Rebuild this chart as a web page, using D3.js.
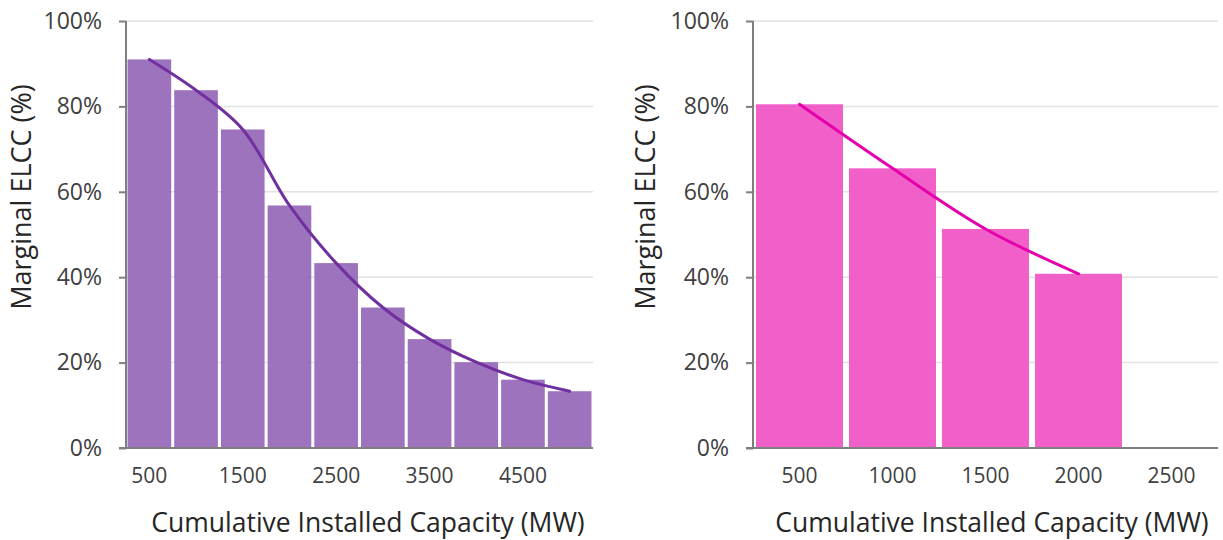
<!DOCTYPE html>
<html><head><meta charset="utf-8">
<script src="https://cdn.jsdelivr.net/npm/d3@7"></script>
<style>
html,body{margin:0;padding:0;background:#fff;}
svg{display:block;font-family:"Open Sans",sans-serif;}
</style></head>
<body><svg id="c" width="1223" height="540"></svg>
<script>
// ---- data ----
const leftCategories = [500,1000,1500,2000,2500,3000,3500,4000,4500,5000];
const leftValues = [91.0,83.8,74.6,56.8,43.3,32.9,25.5,20.1,16.0,13.3];
const leftTickLabels = ["500","1500","2500","3500","4500"];
const rightCategories = [500,1000,1500,2000,2500];
const rightValues = [80.5,65.5,51.3,40.8,null];
const rightTickLabels = ["500","1000","1500","2000","2500"];
const yTicks = [0,20,40,60,80,100];
const yTitle = "Marginal ELCC (%)";
const xTitle = "Cumulative Installed Capacity (MW)";

const svg = d3.select("#c");

function panel(opt){
  const g = svg.append("g");
  const y = d3.scaleLinear().domain([0,100]).range([448,21]);
  const x = d3.scaleBand().domain(opt.cats).range([opt.x0,opt.x1]).paddingInner(0.065).paddingOuter(0.0325);
  // gridlines
  g.append("g").selectAll("line").data(yTicks.filter(d=>d>0)).join("line")
    .attr("x1",opt.x0).attr("x2",opt.x1).attr("y1",d=>y(d)).attr("y2",d=>y(d))
    .attr("stroke","#e2e2e2").attr("stroke-width",1.5);
  // bars
  const data = opt.cats.map((c,i)=>({c, v:opt.vals[i]})).filter(d=>d.v!=null);
  g.append("g").selectAll("rect").data(data).join("rect")
    .attr("x",d=>x(d.c)).attr("width",x.bandwidth())
    .attr("y",d=>y(d.v)).attr("height",d=>y(0)-y(d.v))
    .attr("fill",opt.bar).attr("fill-opacity",0.92);
  // line
  const line = d3.line().x(d=>x(d.c)+x.bandwidth()/2).y(d=>y(d.v)).curve(d3.curveCatmullRom.alpha(0.5));
  g.append("path").datum(data).attr("d",line).attr("fill","none")
    .attr("stroke",opt.line).attr("stroke-width",3).attr("stroke-linecap","round");
  // y axis
  const ya = d3.axisLeft(y).tickValues(yTicks).tickFormat(d=>d+"%").tickSize(7).tickPadding(17);
  const yg = g.append("g").attr("transform",`translate(${opt.x0},0)`).call(ya);
  yg.select(".domain").attr("stroke","#7f7f7f").attr("stroke-width",2).attr("d",`M0,${y(100)}V${y(0)}`);
  yg.selectAll(".tick line").attr("stroke","#7f7f7f").attr("stroke-width",2);
  yg.selectAll(".tick text").attr("fill","#404040").style("font-size","23px").style("font-family","'Open Sans',sans-serif");
  // x axis
  const xa = d3.axisBottom(x).tickSize(0).tickPadding(20)
    .tickFormat(d=>opt.labels.includes(String(d))?String(d):"");
  const xg = g.append("g").attr("transform",`translate(0,${y(0)})`).call(xa);
  xg.select(".domain").attr("stroke","#7f7f7f").attr("stroke-width",2).attr("d",`M${opt.x0-7},0H${opt.x1}`);
  xg.selectAll(".tick text").attr("fill","#404040").style("font-size","21px").style("font-family","'Open Sans',sans-serif");
  // titles
  g.append("text").attr("x",opt.xtc).attr("y",532).attr("text-anchor","middle")
    .attr("fill","#262626").style("font-size","26.5px").text(xTitle);
  g.append("text").attr("transform",`translate(${opt.ytx},197) rotate(-90)`).attr("text-anchor","middle")
    .attr("dy","0.35em").attr("fill","#262626").style("font-size","27px").text(yTitle);
}

panel({cats:leftCategories, vals:leftValues, labels:leftTickLabels, x0:126, x1:593,
  bar:"#9667b8", line:"#7030a0", xtc:368, ytx:22});
panel({cats:rightCategories, vals:rightValues, labels:rightTickLabels, x0:753, x1:1218,
  bar:"#f052c3", line:"#e600ac", xtc:992, ytx:646});
</script></body></html>
